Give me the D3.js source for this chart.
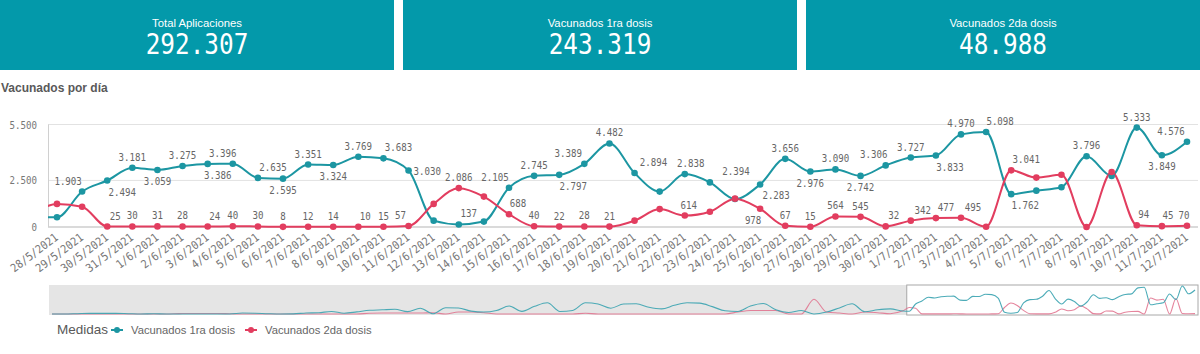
<!DOCTYPE html>
<html><head><meta charset="utf-8">
<script src="https://cdn.jsdelivr.net/npm/d3@7"></script>
<style>body{margin:0;background:#fff;} svg{display:block}</style>
</head><body>
<svg id="c" width="1200" height="354"></svg>
<script>
// ---------- data ----------
const kpiTitles = ["Total Aplicaciones", "Vacunados 1ra dosis", "Vacunados 2da dosis"];
const kpiValues = [292307, 243319, 48988];
const chartTitle = "Vacunados por día";
const seriesNames = ["Vacunados 1ra dosis", "Vacunados 2da dosis"];
const legendTitle = "Medidas";

const dates = ["28/5/2021","29/5/2021","30/5/2021","31/5/2021","1/6/2021","2/6/2021","3/6/2021","4/6/2021",
  "5/6/2021","6/6/2021","7/6/2021","8/6/2021","9/6/2021","10/6/2021","11/6/2021","12/6/2021","13/6/2021",
  "14/6/2021","15/6/2021","16/6/2021","17/6/2021","18/6/2021","19/6/2021","20/6/2021","21/6/2021","22/6/2021",
  "23/6/2021","24/6/2021","25/6/2021","26/6/2021","27/6/2021","28/6/2021","29/6/2021","30/6/2021","1/7/2021",
  "2/7/2021","3/7/2021","4/7/2021","5/7/2021","6/7/2021","7/7/2021","8/7/2021","9/7/2021","10/7/2021",
  "11/7/2021","12/7/2021"];
const first = [520,1903,2494,3181,3059,3275,3386,3396,2635,2595,3351,3324,3769,3683,3030,340,137,290,2105,2745,
  2797,3389,4482,2894,1900,2838,2394,1500,2283,3656,2976,3090,2742,3306,3727,3833,4970,5098,1762,1950,2130,3796,
  2740,5333,3849,4576];
const second = [1240,1090,25,30,31,28,24,40,30,8,12,14,10,15,57,1240,2086,1630,688,40,22,28,21,340,960,614,820,
  1520,978,67,15,564,545,32,342,477,495,10,3041,2650,2800,0,2950,94,45,70];

// navigator history (read from the overview strip), every 2nd day from 13/1/2021 to 27/5/2021
const histFirst = [0,0,60,120,120,120,60,0,60,0,0,0,0,0,0,180,150,60,
  0,30,180,250,490,150,400,700,800,900,450,1100,60,1200,1150,550,370,670,
  1520,500,1460,2130,490,670,2130,1900,1100,1900,1950,1280,980,1650,2130,2070,1400,610,
  490,1520,2000,800,300,670,0,370,1160,1950,430,800,980,560];
const histSecond = [0,0,0,0,0,0,0,0,0,0,80,100,100,100,50,0,0,0,
  0,0,0,0,0,0,0,150,180,180,180,180,250,0,370,370,250,0,
  0,0,0,0,0,0,150,0,0,0,0,0,0,0,0,0,0,0,
  370,670,670,670,0,0,2800,370,180,0,370,250,60,600];

const yTicks = [0, 2500, 5500];

// data-label placement: t = above, b = below, r = right; number = horizontal nudge
const labelPos1 = ["","t-14","b+15","t","b","t","b+10","t-10","t+15","b","t","b","t","t+15","r","","t+10","",
  "t-14","t","b+14","t-16","t","t+19","","t+6","t+26","","b+16","t","b","t","b","t-12","t","b+14","t","t+14",
  "b+14","","","t","","t","b","t-16"];
const labelPos2 = ["","","t+8","t","t","t","t+7","t","t","t","t","t","t+7","t","t-8","","t","","t+9","t","t",
  "t","t","","","t+4","","","b-7","t","t","t","t","t+8","t+12","t+10","t+12","","t+15","","","","","t+7","t+6","t-3"];

// ---------- drawing ----------
const TEAL = "#1c96a2", RED = "#e23d5f", KPI_BG = "#0399aa";
const MONO = "'DejaVu Sans Mono', monospace";
const SANS = "'Liberation Sans', Arial, sans-serif";
const loc = d3.formatLocale({decimal: ",", thousands: ".", grouping: [3], currency: ["", ""]});
const fmt = loc.format(",d");

const svg = d3.select("#c");

function condText(parent, x, y, str, opts) {
  const o = Object.assign({size: 11, sx: 0.83, anchor: "middle", rot: 0, fill: "#666", family: MONO, weight: "normal"}, opts);
  return parent.append("text")
    .attr("transform", `translate(${x},${y}) rotate(${o.rot}) scale(${o.sx},1)`)
    .attr("text-anchor", o.anchor)
    .attr("font-family", o.family)
    .attr("font-size", o.size)
    .attr("font-weight", o.weight)
    .attr("fill", o.fill)
    .text(str);
}

// KPI boxes
const kpiX = d3.scaleBand().domain(d3.range(3)).range([0, 1209]).paddingInner(0);
kpiTitles.forEach((t, i) => {
  const x0 = kpiX(i), w = kpiX.bandwidth() - 9;
  svg.append("rect").attr("x", x0).attr("y", 0).attr("width", w).attr("height", 70).attr("fill", KPI_BG);
  svg.append("text").attr("x", x0 + w / 2).attr("y", 27).attr("text-anchor", "middle")
    .attr("font-family", SANS).attr("font-size", 11.3).attr("fill", "#fff").text(t);
  condText(svg, x0 + w / 2, 54, fmt(kpiValues[i]), {size: 28, sx: 0.87, fill: "#fff"});
});

// title
svg.append("text").attr("x", 1).attr("y", 92).attr("font-family", SANS).attr("font-size", 12)
  .attr("font-weight", "bold").attr("fill", "#595959").text(chartTitle);

// main chart
const plotL = 48, plotR = 1198;
const x = d3.scalePoint().domain(dates).range([57, 1187]);
const y = d3.scaleLinear().domain([0, 5500]).range([227, 124.5]);

const g = svg.append("g");
yTicks.forEach(t => {
  g.append("line").attr("x1", plotL).attr("x2", plotR).attr("y1", y(t)).attr("y2", y(t))
    .attr("stroke", t === 0 ? "#b5b5b5" : "#e2e2e2").attr("stroke-width", 1);
  condText(g, 37, y(t) + 4, fmt(t), {anchor: "end", fill: "#777"});
});
g.append("line").attr("x1", plotL + 0.5).attr("x2", plotL + 0.5).attr("y1", y(5500)).attr("y2", y(0))
  .attr("stroke", "#d0d0d0");

// x tick labels
dates.forEach(d => {
  condText(g, x(d) + 2, 239, d, {anchor: "end", rot: -37, size: 11.5, sx: 0.9, fill: "#777"});
});

svg.append("clipPath").attr("id", "plotclip").append("rect")
  .attr("x", plotL).attr("y", 100).attr("width", plotR - plotL).attr("height", 135);

const line = d3.line().x(p => p.x).y(p => p.y).curve(d3.curveMonotoneX);
const series = [
  {vals: first, prev: histFirst[histFirst.length - 1], color: TEAL, pos: labelPos1},
  {vals: second, prev: histSecond[histSecond.length - 1], color: RED, pos: labelPos2}
];
const lg = g.append("g").attr("clip-path", "url(#plotclip)");
series.forEach(s => {
  const pts = [{x: x(dates[0]) - x.step(), y: y(s.prev)}].concat(s.vals.map((v, i) => ({x: x(dates[i]), y: y(v)})));
  lg.append("path").attr("d", line(pts)).attr("fill", "none").attr("stroke", s.color).attr("stroke-width", 2);
});
series.forEach(s => {
  lg.selectAll(null).data(s.vals).enter().append("circle")
    .attr("cx", (v, i) => x(dates[i])).attr("cy", v => y(v)).attr("r", 3.3).attr("fill", s.color);
});
// data labels
series.forEach(s => {
  s.vals.forEach((v, i) => {
    const p = s.pos[i];
    if (!p) return;
    const kind = p[0];
    const dx = p.length > 1 ? +p.slice(1) : 0;
    const px = x(dates[i]), py = y(v);
    if (kind === "t") condText(g, px + dx, py - 7, fmt(v), {});
    else if (kind === "b") condText(g, px + dx, py + 15, fmt(v), {});
    else if (kind === "r") condText(g, px + 5, py + 4, fmt(v), {anchor: "start"});
  });
});

// navigator
const navT = 285, navB = 315;
const nHist = histFirst.length;
const navFirst = histFirst.map((v, k) => ({d: 1 + 2 * k, v})).concat(first.map((v, i) => ({d: 2 * nHist + i, v})));
const navSecond = histSecond.map((v, k) => ({d: 1 + 2 * k, v})).concat(second.map((v, i) => ({d: 2 * nHist + i, v})));
const lastDay = 2 * nHist + dates.length - 1;
const xn = d3.scaleLinear().domain([1, lastDay]).range([52, 1195]);
const yn = d3.scaleLinear().domain([0, d3.max(first.concat(second, histFirst, histSecond))]).range([navB - 1, navT + 1]);
const ng = svg.append("g");
ng.append("rect").attr("x", 49).attr("y", navT).attr("width", 1149).attr("height", navB - navT).attr("fill", "#e5e5e5");
const w0 = xn(2 * nHist) - 2.5, w1 = xn(lastDay) + 3;
ng.append("rect").attr("x", w0).attr("y", navT).attr("width", w1 - w0).attr("height", navB - navT)
  .attr("fill", "#fff").attr("stroke", "#a8a8a8").attr("stroke-width", 1);
const nline = d3.line().x(p => xn(p.d)).y(p => yn(p.v)).curve(d3.curveMonotoneX);
ng.append("path").attr("d", nline(navSecond)).attr("fill", "none").attr("stroke", "#e0708c").attr("stroke-width", 1.1).attr("opacity", 0.85);
ng.append("path").attr("d", nline(navFirst)).attr("fill", "none").attr("stroke", "#3aa3b0").attr("stroke-width", 1.1).attr("opacity", 0.9);

// legend
const legY = 334;
condText(svg, 57, legY, legendTitle, {family: SANS, size: 13.5, sx: 1, anchor: "start", fill: "#595959"});
const legX = [117, 251];
seriesNames.forEach((n, i) => {
  const c = i === 0 ? TEAL : RED;
  svg.append("line").attr("x1", legX[i] - 6).attr("x2", legX[i] + 6).attr("y1", legY - 4).attr("y2", legY - 4)
    .attr("stroke", c).attr("stroke-width", 2);
  svg.append("circle").attr("cx", legX[i]).attr("cy", legY - 4).attr("r", 3).attr("fill", c);
  condText(svg, legX[i] + 14, legY, n, {family: SANS, size: 11.6, sx: 0.97, anchor: "start", fill: "#666"});
});
</script>
</body></html>
